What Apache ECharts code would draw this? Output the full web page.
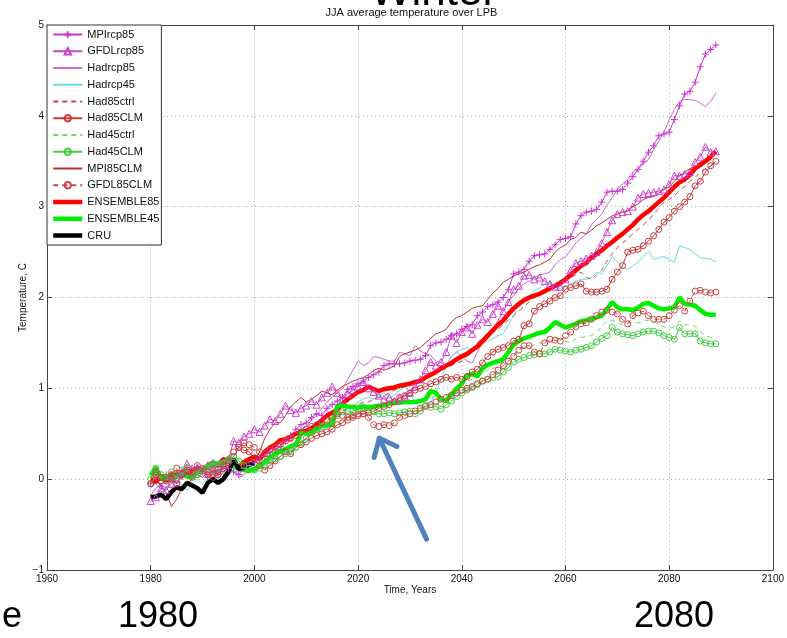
<!DOCTYPE html>
<html>
<head>
<meta charset="utf-8">
<script src="https://cdn.jsdelivr.net/npm/echarts@6/dist/echarts.min.js"></script>
<style>
  html, body { margin: 0; padding: 0; background: #fff; }
  #chart { width: 787px; height: 638px; }
</style>
</head>
<body>
<div id="chart"></div>
<script>
// Model years (annual means 1980-2089) and observed years (CRU)
const modelYears = Array.from({ length: 110 }, (_, i) => 1980 + i);
const cruYears = Array.from({ length: 21 }, (_, i) => 1980 + i);

// Axis ticks
const xTicks = [1960, 1980, 2000, 2020, 2040, 2060, 2080, 2100];
const yTicks = [-1, 0, 1, 2, 3, 4, 5];

// JJA temperature anomalies, one row per decade
const MPIrcp85 = [
  -0.05, 0.02, -0.08, 0.05, 0.00, 0.08, 0.03, 0.10, 0.05, 0.12,
  0.08, 0.02, 0.10, 0.06, 0.14, 0.12, 0.08, 0.05, 0.12, 0.15,
  0.18, 0.22, 0.25, 0.30, 0.33, 0.36, 0.42, 0.48, 0.55, 0.60,
  0.62, 0.68, 0.72, 0.70, 0.78, 0.82, 0.86, 0.90, 0.99, 1.02,
  1.05, 1.08, 1.12, 1.15, 1.18, 1.25, 1.27, 1.27, 1.27, 1.28,
  1.30, 1.31, 1.32, 1.36, 1.47, 1.50, 1.51, 1.54, 1.58, 1.60,
  1.65, 1.68, 1.70, 1.80, 1.84, 1.90, 1.92, 1.95, 2.00, 2.09,
  2.26, 2.28, 2.31, 2.40, 2.46, 2.47, 2.48, 2.53, 2.58, 2.64,
  2.65, 2.67, 2.81, 2.90, 2.94, 2.95, 2.97, 3.05, 3.16, 3.17,
  3.17, 3.19, 3.26, 3.33, 3.41, 3.50, 3.60, 3.67, 3.78, 3.80,
  3.82, 3.96, 4.11, 4.24, 4.27, 4.37, 4.54, 4.68, 4.73, 4.78
];
const GFDLrcp85 = [
  -0.24, -0.20, -0.10, -0.12, -0.05, 0.00, 0.08, 0.17, 0.12, 0.13,
  0.10, 0.15, 0.18, 0.14, 0.16, 0.22, 0.42, 0.40, 0.47, 0.50,
  0.55, 0.52, 0.59, 0.66, 0.64, 0.72, 0.81, 0.76, 0.73, 0.78,
  0.81, 0.86, 0.82, 0.90, 0.95, 1.02, 0.95, 0.88, 0.94, 0.98,
  1.02, 1.07, 1.00, 0.96, 0.92, 0.88, 0.90, 0.86, 0.89, 0.91,
  0.95, 1.02, 1.10, 1.20, 1.29, 1.25, 1.29, 1.40, 1.58, 1.50,
  1.62, 1.67, 1.60, 1.70, 1.76, 1.73, 1.82, 1.91, 1.85, 1.95,
  2.09, 2.13, 2.24, 2.25, 2.20, 2.22, 2.18, 2.15, 2.12, 2.12,
  2.20, 2.30, 2.38, 2.40, 2.43, 2.46, 2.50, 2.60, 2.72, 2.85,
  2.92, 2.94, 2.95, 3.00, 3.10, 3.14, 3.15, 3.16, 3.17, 3.19,
  3.25, 3.34, 3.34, 3.36, 3.38, 3.49, 3.55, 3.66, 3.60, 3.61
];
const Hadrcp85 = [
  -0.18, -0.10, -0.05, -0.12, 0.02, -0.05, 0.05, 0.10, 0.02, 0.08,
  0.12, 0.05, 0.00, 0.10, 0.05, 0.15, 0.08, 0.02, 0.05, 0.10,
  0.08, 0.12, 0.20, 0.28, 0.35, 0.40, 0.45, 0.42, 0.50, 0.55,
  0.58, 0.65, 0.70, 0.78, 0.85, 0.90, 0.95, 1.00, 1.10, 1.20,
  1.30, 1.25, 1.28, 1.35, 1.34, 1.32, 1.30, 1.30, 1.40, 1.38,
  1.36, 1.47, 1.41, 1.38, 1.36, 1.30, 1.28, 1.25, 1.35, 1.40,
  1.35, 1.30, 1.28, 1.40, 1.50, 1.55, 1.62, 1.75, 1.85, 1.95,
  2.02, 2.10, 2.15, 2.18, 2.22, 2.25, 2.26, 2.28, 2.36, 2.42,
  2.45, 2.52, 2.60, 2.65, 2.70, 2.80, 2.86, 2.92, 3.02, 3.10,
  3.19, 3.25, 3.30, 3.38, 3.41, 3.47, 3.52, 3.63, 3.72, 3.82,
  3.96, 4.07, 4.16, 4.18, 4.18, 4.17, 4.14, 4.10, 4.16, 4.25
];
const Hadrcp45 = [
  -0.10, -0.05, -0.12, -0.08, -0.10, -0.02, -0.06, -0.12, -0.05, 0.00,
  -0.05, 0.02, 0.05, 0.00, 0.08, 0.05, 0.10, 0.12, 0.08, 0.15,
  0.10, 0.15, 0.20, 0.18, 0.25, 0.30, 0.28, 0.35, 0.42, 0.40,
  0.45, 0.50, 0.55, 0.52, 0.60, 0.65, 0.70, 0.72, 0.78, 0.80,
  0.85, 0.88, 0.90, 0.88, 0.92, 0.95, 0.90, 0.92, 0.98, 1.02,
  0.95, 0.85, 0.80, 0.78, 0.85, 0.95, 1.10, 1.25, 1.35, 1.40,
  1.43, 1.45, 1.42, 1.48, 1.50, 1.52, 1.55, 1.58, 1.60, 1.70,
  1.80, 1.90, 1.95, 2.02, 2.08, 2.10, 2.15, 2.17, 2.12, 2.10,
  2.12, 2.15, 2.18, 2.20, 2.20, 2.22, 2.28, 2.26, 2.35, 2.45,
  2.40, 2.33, 2.31, 2.35, 2.39, 2.45, 2.51, 2.42, 2.44, 2.45,
  2.42, 2.39, 2.57, 2.55, 2.53, 2.48, 2.44, 2.43, 2.42, 2.39
];
const Had85ctrl = [
  0.02, -0.05, 0.05, 0.00, 0.08, 0.02, 0.00, 0.10, 0.05, 0.08,
  0.05, 0.12, 0.08, 0.10, 0.15, 0.12, 0.18, 0.15, 0.20, 0.22,
  0.20, 0.25, 0.28, 0.30, 0.35, 0.38, 0.40, 0.42, 0.45, 0.48,
  0.50, 0.55, 0.58, 0.62, 0.65, 0.68, 0.72, 0.75, 0.78, 0.80,
  0.82, 0.85, 0.85, 0.88, 0.90, 0.92, 0.95, 0.98, 1.00, 1.02,
  1.05, 1.08, 1.10, 1.12, 1.15, 1.18, 1.20, 1.22, 1.25, 1.28,
  1.30, 1.35, 1.42, 1.50, 1.55, 1.60, 1.62, 1.65, 1.70, 1.75,
  1.80, 1.85, 1.90, 1.95, 2.00, 2.05, 2.10, 2.12, 2.15, 2.18,
  2.20, 2.22, 2.25, 2.28, 2.22, 2.20, 2.25, 2.30, 2.40, 2.48,
  2.55, 2.60, 2.65, 2.70, 2.75, 2.80, 2.85, 2.92, 2.98, 3.05,
  3.08, 3.12, 3.18, 3.22, 3.28, 3.32, 3.38, 3.42, 3.45, 3.48
];
const Had85CLM = [
  -0.05, 0.05, -0.02, 0.02, 0.00, -0.05, 0.05, 0.08, 0.02, 0.05,
  0.10, 0.08, 0.02, 0.05, 0.12, 0.18, 0.25, 0.35, 0.32, 0.30,
  0.22, 0.15, 0.10, 0.15, 0.20, 0.25, 0.30, 0.28, 0.35, 0.38,
  0.41, 0.45, 0.48, 0.50, 0.52, 0.55, 0.60, 0.62, 0.68, 0.70,
  0.72, 0.72, 0.73, 0.75, 0.78, 0.80, 0.82, 0.85, 0.90, 0.92,
  0.95, 0.98, 1.00, 1.02, 1.05, 1.07, 1.10, 1.12, 1.10, 1.12,
  1.10, 1.13, 1.18, 1.21, 1.28, 1.35, 1.40, 1.43, 1.45, 1.47,
  1.52, 1.54, 1.69, 1.71, 1.85, 1.90, 1.93, 1.96, 2.00, 2.02,
  2.09, 2.11, 2.13, 2.15, 2.07, 2.06, 2.06, 2.07, 2.09, 2.20,
  2.28, 2.35, 2.50, 2.52, 2.53, 2.57, 2.62, 2.68, 2.75, 2.83,
  2.88, 2.95, 3.00, 3.05, 3.11, 3.23, 3.28, 3.38, 3.45, 3.50
];
const Had45ctrl = [
  0.05, 0.02, 0.08, 0.00, 0.05, 0.10, 0.05, 0.08, 0.12, 0.10,
  0.08, 0.15, 0.12, 0.18, 0.15, 0.20, 0.18, 0.22, 0.20, 0.18,
  0.15, 0.18, 0.22, 0.25, 0.28, 0.32, 0.35, 0.38, 0.42, 0.45,
  0.50, 0.55, 0.58, 0.62, 0.65, 0.70, 0.74, 0.78, 0.80, 0.82,
  0.82, 0.83, 0.82, 0.80, 0.80, 0.81, 0.82, 0.83, 0.84, 0.85,
  0.85, 0.84, 0.86, 0.88, 0.90, 0.90, 0.88, 0.92, 0.96, 1.00,
  1.04, 1.08, 1.10, 1.14, 1.17, 1.20, 1.22, 1.24, 1.28, 1.33,
  1.38, 1.42, 1.45, 1.46, 1.48, 1.50, 1.50, 1.52, 1.55, 1.54,
  1.52, 1.50, 1.55, 1.56, 1.57, 1.58, 1.62, 1.68, 1.74, 1.75,
  1.72, 1.70, 1.72, 1.73, 1.72, 1.74, 1.75, 1.74, 1.70, 1.68,
  1.66, 1.68, 1.74, 1.70, 1.70, 1.68, 1.62, 1.58, 1.56, 1.55
];
const Had45CLM = [
  0.00, 0.12, 0.05, 0.02, 0.08, 0.05, 0.10, 0.12, 0.08, 0.05,
  0.10, 0.12, 0.15, 0.12, 0.18, 0.22, 0.25, 0.20, 0.15, 0.12,
  0.10, 0.12, 0.15, 0.20, 0.22, 0.25, 0.28, 0.30, 0.35, 0.40,
  0.45, 0.52, 0.55, 0.58, 0.60, 0.65, 0.70, 0.74, 0.72, 0.75,
  0.77, 0.77, 0.76, 0.74, 0.72, 0.72, 0.73, 0.72, 0.73, 0.74,
  0.75, 0.72, 0.75, 0.81, 0.79, 0.80, 0.77, 0.82, 0.86, 0.91,
  0.95, 0.98, 1.01, 1.04, 1.08, 1.10, 1.12, 1.13, 1.18, 1.23,
  1.29, 1.32, 1.34, 1.36, 1.37, 1.38, 1.38, 1.40, 1.43, 1.42,
  1.41, 1.40, 1.42, 1.43, 1.45, 1.47, 1.51, 1.55, 1.58, 1.67,
  1.62, 1.60, 1.59, 1.58, 1.60, 1.62, 1.63, 1.63, 1.61, 1.58,
  1.56, 1.54, 1.67, 1.60, 1.60, 1.60, 1.52, 1.50, 1.49, 1.49
];
const MPI85CLM = [
  -0.05, 0.00, -0.08, -0.15, -0.30, -0.22, -0.10, -0.05, 0.00, 0.05,
  0.02, 0.08, 0.05, 0.10, 0.08, 0.12, 0.15, 0.10, 0.18, 0.22,
  0.20, 0.30, 0.45, 0.55, 0.62, 0.62, 0.70, 0.80, 0.85, 0.90,
  0.85, 0.88, 0.92, 0.97, 0.95, 0.93, 0.98, 1.02, 1.05, 1.08,
  1.10, 1.12, 1.15, 1.20, 1.22, 1.20, 1.22, 1.25, 1.35, 1.38,
  1.40, 1.42, 1.45, 1.50, 1.55, 1.60, 1.62, 1.65, 1.73, 1.78,
  1.80, 1.84, 1.88, 1.90, 1.91, 1.98, 2.05, 2.10, 2.17, 2.20,
  2.24, 2.26, 2.28, 2.31, 2.34, 2.36, 2.39, 2.42, 2.50, 2.55,
  2.58, 2.64, 2.66, 2.72, 2.70, 2.74, 2.79, 2.82, 2.86, 2.90,
  2.92, 2.94, 2.96, 3.00, 3.03, 3.08, 3.10, 3.11, 3.15, 3.19,
  3.22, 3.28, 3.34, 3.38, 3.42, 3.44, 3.49, 3.51, 3.55, 3.58
];
const GFDL85CLM = [
  -0.05, 0.08, 0.02, -0.02, 0.05, 0.12, 0.05, 0.10, 0.08, 0.15,
  0.12, 0.05, 0.10, 0.08, 0.15, 0.20, 0.30, 0.35, 0.40, 0.38,
  0.35, 0.30, 0.28, 0.32, 0.35, 0.38, 0.42, 0.45, 0.48, 0.52,
  0.55, 0.58, 0.60, 0.62, 0.65, 0.68, 0.72, 0.70, 0.65, 0.68,
  0.70, 0.72, 0.68, 0.60, 0.58, 0.60, 0.59, 0.62, 0.68, 0.70,
  0.72, 0.75, 0.78, 0.80, 0.82, 0.85, 0.88, 0.90, 0.92, 0.95,
  0.98, 1.00, 1.02, 1.05, 1.08, 1.10, 1.15, 1.20, 1.25, 1.30,
  1.35, 1.42, 1.47, 1.47, 1.40, 1.38, 1.50, 1.54, 1.53, 1.52,
  1.58, 1.62, 1.68, 1.71, 1.72, 1.76, 1.80, 1.84, 1.86, 1.84,
  1.82, 1.76, 1.71, 1.80, 1.83, 1.85, 1.80, 1.76, 1.76, 1.76,
  1.80, 1.86, 1.91, 1.85, 1.96, 2.07, 2.08, 2.06, 2.05, 2.06
];
const ENSEMBLE85 = [
  0.00, -0.03, 0.03, -0.02, 0.05, 0.04, 0.08, 0.05, 0.10, 0.12,
  0.08, 0.15, 0.18, 0.15, 0.22, 0.20, 0.17, 0.14, 0.19, 0.22,
  0.25, 0.22, 0.30, 0.35, 0.38, 0.43, 0.44, 0.47, 0.50, 0.52,
  0.53, 0.56, 0.60, 0.65, 0.70, 0.73, 0.77, 0.83, 0.88, 0.92,
  0.96, 0.98, 1.02, 0.99, 0.97, 0.99, 1.00, 1.01, 1.03, 1.04,
  1.05, 1.07, 1.08, 1.12, 1.15, 1.18, 1.22, 1.25, 1.28, 1.32,
  1.35, 1.38, 1.42, 1.46, 1.52, 1.58, 1.64, 1.70, 1.75, 1.82,
  1.88, 1.93, 1.97, 2.00, 2.02, 2.04, 2.07, 2.10, 2.13, 2.16,
  2.20, 2.25, 2.30, 2.35, 2.38, 2.44, 2.48, 2.52, 2.57, 2.61,
  2.66, 2.70, 2.75, 2.80, 2.86, 2.91, 2.95, 3.00, 3.05, 3.10,
  3.16, 3.22, 3.27, 3.30, 3.35, 3.42, 3.46, 3.50, 3.55, 3.61
];
const ENSEMBLE45 = [
  0.04, 0.13, 0.00, 0.02, 0.00, 0.03, 0.06, 0.03, 0.02, 0.08,
  0.11, 0.14, 0.18, 0.17, 0.18, 0.22, 0.15, 0.11, 0.10, 0.09,
  0.11, 0.15, 0.19, 0.24, 0.28, 0.31, 0.33, 0.36, 0.38, 0.51,
  0.50, 0.51, 0.55, 0.59, 0.59, 0.60, 0.81, 0.81, 0.80, 0.79,
  0.79, 0.80, 0.79, 0.80, 0.81, 0.81, 0.83, 0.84, 0.84, 0.85,
  0.85, 0.85, 0.86, 0.88, 0.97, 0.95, 0.88, 0.86, 0.93, 1.00,
  1.05, 1.14, 1.16, 1.13, 1.22, 1.26, 1.28, 1.30, 1.32, 1.40,
  1.48, 1.52, 1.55, 1.57, 1.59, 1.61, 1.62, 1.67, 1.73, 1.70,
  1.67, 1.69, 1.71, 1.74, 1.75, 1.76, 1.78, 1.80, 1.87, 1.95,
  1.89, 1.87, 1.87, 1.86, 1.89, 1.93, 1.94, 1.91, 1.88, 1.87,
  1.88, 1.89, 2.00, 1.93, 1.92, 1.91, 1.86, 1.82, 1.81, 1.81
];
const CRU = [
  -0.20, -0.19, -0.17, -0.22, -0.14, -0.09, -0.11, -0.04, -0.07, -0.10,
  -0.15, -0.04, 0.00, -0.04, 0.00, 0.08, 0.22, 0.11, 0.13, 0.16, 0.18
];

// Annotation arrow (shaft tail, tip, and the two head strokes), in data units
const arrowTail = [2033.2, -0.66];
const arrowTip = [2024.1, 0.45];
const arrowHeadA = [2023.1, 0.24];
const arrowHeadB = [2027.5, 0.36];

function pairs(xs, ys) { return ys.map((v, i) => [xs[i], v]); }

const plusSymbol = 'path://M5,0L5,10M0,5L10,5';
const font = 'Liberation Sans, Arial, sans-serif';
const clear = 'rgba(0,0,0,0)';

function thin(name, color, values, extra) {
  return Object.assign({
    name: name,
    type: 'line',
    data: pairs(modelYears, values),
    symbol: 'none',
    showAllSymbol: true,
    lineStyle: { color: color, width: 1 },
    itemStyle: { color: color },
    emphasis: { disabled: true }
  }, extra || {});
}
function marked(name, color, values, symbol, size, dashed) {
  return {
    name: name,
    type: 'line',
    data: pairs(modelYears, values),
    symbol: symbol,
    symbolSize: size,
    showAllSymbol: true,
    lineStyle: { color: color, width: 1, type: dashed ? [5, 4] : 'solid' },
    itemStyle: { color: clear, borderColor: color, borderWidth: 1 },
    emphasis: { disabled: true }
  };
}

const legendNames = ['MPIrcp85', 'GFDLrcp85', 'Hadrcp85', 'Hadrcp45', 'Had85ctrl', 'Had85CLM',
  'Had45ctrl', 'Had45CLM', 'MPI85CLM', 'GFDL85CLM', 'ENSEMBLE85', 'ENSEMBLE45', 'CRU'];
const withMarkers = ['MPIrcp85', 'GFDLrcp85', 'Had85CLM', 'Had45CLM', 'GFDL85CLM'];
const thickLines = ['ENSEMBLE85', 'ENSEMBLE45', 'CRU'];

const series = [
  marked('MPIrcp85', '#cc33cc', MPIrcp85, plusSymbol, 7, false),
  marked('GFDLrcp85', '#cc44cc', GFDLrcp85, 'triangle', 7, false),
  thin('Hadrcp85', '#cc66cc', Hadrcp85),
  thin('Hadrcp45', '#66dddd', Hadrcp45),
  thin('Had85ctrl', '#cc4444', Had85ctrl, { lineStyle: { color: '#cc4444', width: 1, type: [5, 4] } }),
  marked('Had85CLM', '#c83a3a', Had85CLM, 'circle', 6, false),
  thin('Had45ctrl', '#66dd66', Had45ctrl, { lineStyle: { color: '#66dd66', width: 1, type: [5, 4] } }),
  marked('Had45CLM', '#44cc44', Had45CLM, 'circle', 6, false),
  thin('MPI85CLM', '#b83030', MPI85CLM),
  marked('GFDL85CLM', '#cc4444', GFDL85CLM, 'circle', 6, true),
  thin('ENSEMBLE85', '#ff0000', ENSEMBLE85, { lineStyle: { color: '#ff0000', width: 4.5 } }),
  thin('ENSEMBLE45', '#00ee00', ENSEMBLE45, { lineStyle: { color: '#00ee00', width: 4.5 } }),
  {
    name: 'CRU',
    type: 'line',
    data: pairs(cruYears, CRU),
    symbol: 'none',
    lineStyle: { color: '#000', width: 4.5 },
    itemStyle: { color: '#000' },
    emphasis: { disabled: true },
    z: 3,
    markLine: {
      silent: true,
      symbol: ['none', 'none'],
      label: { show: false },
      lineStyle: { color: '#4f81bd', width: 5, type: 'solid', cap: 'round' },
      data: [
        [{ coord: arrowTail }, { coord: arrowTip }],
        [{ coord: arrowHeadA }, { coord: arrowTip }],
        [{ coord: arrowHeadB }, { coord: arrowTip }]
      ]
    }
  }
];

// Legend entries: lines without markers get an invisible marker in the key
const legendData = legendNames.map(n => {
  if (withMarkers.includes(n)) return { name: n };
  const entry = { name: n, itemStyle: { color: clear, borderColor: clear, borderWidth: 0 } };
  if (thickLines.includes(n)) entry.lineStyle = { width: 4.5 };
  return entry;
});

const axisLineStyle = { color: '#444', width: 1 };
const gridLineStyle = { color: '#aaaaaa', width: 1, type: [1, 3] };
const chart = echarts.init(document.getElementById('chart'));
chart.setOption({
  animation: false,
  backgroundColor: '#fff',
  textStyle: { fontFamily: font },
  grid: { left: 47, right: 11, top: 25, bottom: 68 },
  xAxis: [
    {
      type: 'value', min: xTicks[0], max: xTicks[xTicks.length - 1], interval: 20,
      position: 'bottom',
      axisLine: { onZero: false, lineStyle: axisLineStyle },
      axisTick: { inside: true, length: 5, lineStyle: axisLineStyle },
      axisLabel: { color: '#111', fontSize: 10, margin: 4, fontFamily: font, formatter: v => String(v) },
      splitLine: { show: true, lineStyle: gridLineStyle },
      name: 'Time, Years', nameLocation: 'middle', nameGap: 15, nameMoveOverlap: false,
      nameTextStyle: { color: '#111', fontSize: 10, fontFamily: font }
    },
    {
      type: 'value', min: xTicks[0], max: xTicks[xTicks.length - 1], interval: 20,
      position: 'top',
      axisLine: { show: true, onZero: false, lineStyle: axisLineStyle },
      axisTick: { show: true, inside: true, length: 5, lineStyle: axisLineStyle },
      axisLabel: { show: false },
      splitLine: { show: false }
    }
  ],
  yAxis: [
    {
      type: 'value', min: yTicks[0], max: yTicks[yTicks.length - 1], interval: 1,
      position: 'left',
      axisLine: { show: true, onZero: false, lineStyle: axisLineStyle },
      axisTick: { show: true, inside: true, length: 5, lineStyle: axisLineStyle },
      axisLabel: {
        color: '#111', fontSize: 10, margin: 3, fontFamily: font,
        formatter: v => (v < 0 ? '\u2212' + Math.abs(v) : String(v))
      },
      splitLine: { show: true, lineStyle: gridLineStyle },
      name: 'Temperature, C', nameLocation: 'middle', nameGap: 19, nameRotate: 90, nameMoveOverlap: false,
      nameTextStyle: { color: '#111', fontSize: 10, fontFamily: font }
    },
    {
      type: 'value', min: yTicks[0], max: yTicks[yTicks.length - 1], interval: 1,
      position: 'right',
      axisLine: { show: true, onZero: false, lineStyle: axisLineStyle },
      axisTick: { show: true, inside: true, length: 5, lineStyle: axisLineStyle },
      axisLabel: { show: false },
      splitLine: { show: false }
    }
  ],
  legend: {
    data: legendData,
    orient: 'vertical',
    left: 47, top: 25,
    backgroundColor: '#fff',
    borderColor: '#333', borderWidth: 1,
    padding: [4, 2, 4, 4],
    itemWidth: 29, itemHeight: 8, itemGap: 5.75,
    textStyle: { fontSize: 11, fontFamily: font, color: '#111' },
    selectedMode: false
  },
  graphic: [
    { type: 'text', left: 370, top: -29, silent: true,
      style: { text: 'Winter', fontSize: 44, fontFamily: font, fill: '#000' } },
    { type: 'text', x: 411.5, y: 13, silent: true,
      style: { text: 'JJA average temperature over LPB', fontSize: 11, fontFamily: font, fill: '#111',
        align: 'center', verticalAlign: 'middle' } },
    { type: 'text', x: 22, y: 617, silent: true,
      style: { text: 'e', fontSize: 36, fontFamily: font, fill: '#000', align: 'right', verticalAlign: 'middle' } },
    { type: 'text', x: 158, y: 617, silent: true,
      style: { text: '1980', fontSize: 36, fontFamily: font, fill: '#000', align: 'center', verticalAlign: 'middle' } },
    { type: 'text', x: 674, y: 617, silent: true,
      style: { text: '2080', fontSize: 36, fontFamily: font, fill: '#000', align: 'center', verticalAlign: 'middle' } }
  ],
  series: series
});
</script>
</body>
</html>
